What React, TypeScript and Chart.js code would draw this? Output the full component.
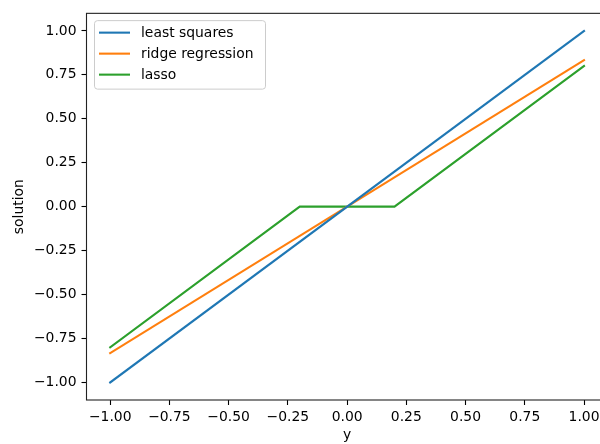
import React, { useEffect, useRef } from "react";
import { Chart, registerables } from "chart.js";

Chart.register(...registerables);

const seriesNames = ["least squares", "ridge regression", "lasso"];
const seriesColors = ["#1f77b4", "#ff7f0e", "#2ca02c"];

const leastSquaresX = [-1, 1];
const leastSquaresY = [-1, 1];
const ridgeX = [-1, 1];
const ridgeY = [-0.8333, 0.8333];
const lassoX = [-1, -0.2, 0.2, 1];
const lassoY = [-0.8, 0, 0, 0.8];

const xTicks = [-1, -0.75, -0.5, -0.25, 0, 0.25, 0.5, 0.75, 1];
const yTicks = [-1, -0.75, -0.5, -0.25, 0, 0.25, 0.5, 0.75, 1];

const xLabel = "y";
const yLabel = "solution";

const FONT = "DejaVu Sans";
const FS = 13.9;

const fmt = (v: number) => {
  const s = Math.abs(v).toFixed(2);
  return v < -1e-9 ? "\u2212" + s : s;
};

const toPts = (xs: number[], ys: number[]) => xs.map((x, i) => ({ x, y: ys[i] }));

const framePlugin = {
  id: "frameAndLegend",
  afterDraw(chart: any) {
    const { ctx, chartArea } = chart;
    const { left, top, right, bottom } = chartArea;
    ctx.save();
    ctx.strokeStyle = "#222";
    ctx.lineWidth = 1.1;
    ctx.strokeRect(left, top, right - left, bottom - top);

    // legend
    const bx = left + 8;
    const by = top + 7.3;
    const bw = 171;
    const bh = 68.5;
    const r = 3;
    ctx.beginPath();
    ctx.moveTo(bx + r, by);
    ctx.lineTo(bx + bw - r, by);
    ctx.arcTo(bx + bw, by, bx + bw, by + r, r);
    ctx.lineTo(bx + bw, by + bh - r);
    ctx.arcTo(bx + bw, by + bh, bx + bw - r, by + bh, r);
    ctx.lineTo(bx + r, by + bh);
    ctx.arcTo(bx, by + bh, bx, by + bh - r, r);
    ctx.lineTo(bx, by + r);
    ctx.arcTo(bx, by, bx + r, by, r);
    ctx.closePath();
    ctx.fillStyle = "rgba(255,255,255,0.8)";
    ctx.fill();
    ctx.strokeStyle = "#cccccc";
    ctx.lineWidth = 1;
    ctx.stroke();

    ctx.font = `${FS}px "${FONT}"`;
    ctx.textBaseline = "middle";
    ctx.textAlign = "left";
    chart.data.datasets.forEach((ds: any, i: number) => {
      const y = by + 12 + 21 * i;
      ctx.strokeStyle = ds.borderColor;
      ctx.lineWidth = 2.1;
      ctx.lineCap = "butt";
      ctx.beginPath();
      ctx.moveTo(bx + 4.5, y);
      ctx.lineTo(bx + 35.5, y);
      ctx.stroke();
      ctx.fillStyle = "#000";
      ctx.fillText(ds.label, bx + 46.5, y + 1);
    });
    ctx.restore();
  },
};

export default function App() {
  const ref = useRef<HTMLCanvasElement>(null);
  useEffect(() => {
    if (!ref.current) return;
    const font = { family: FONT, size: FS };
    const chart = new Chart(ref.current, {
      type: "line",
      data: {
        datasets: [
          { label: seriesNames[0], data: toPts(leastSquaresX, leastSquaresY), borderColor: seriesColors[0] },
          { label: seriesNames[1], data: toPts(ridgeX, ridgeY), borderColor: seriesColors[1] },
          { label: seriesNames[2], data: toPts(lassoX, lassoY), borderColor: seriesColors[2] },
        ].map((d) => ({ ...d, borderWidth: 2.1, pointRadius: 0, fill: false, tension: 0, borderCapStyle: "square" as const })),
      },
      options: {
        responsive: false,
        devicePixelRatio: 1,
        animation: false,
        layout: { padding: { top: 11.7, right: 12.3, left: 0, bottom: 0 } },
        plugins: { legend: { display: false }, tooltip: { enabled: false } },
        scales: {
          x: {
            type: "linear",
            min: -1.1,
            max: 1.1,
            afterBuildTicks: (s: any) => {
              s.ticks = xTicks.map((v) => ({ value: v }));
            },
            afterFit: (s: any) => {
              s.height = 44;
            },
            border: { display: false },
            grid: { drawOnChartArea: false, tickLength: 5, tickColor: "#000", tickWidth: 1.1 },
            ticks: { font, color: "#000", padding: 4, maxRotation: 0, autoSkip: false, callback: (v: any) => fmt(Number(v)) },
            title: { display: true, text: xLabel, font, color: "#000", padding: { top: 0, bottom: 0 } },
          },
          y: {
            type: "linear",
            min: -1.1,
            max: 1.1,
            afterBuildTicks: (s: any) => {
              s.ticks = yTicks.map((v) => ({ value: v }));
            },
            afterFit: (s: any) => {
              s.width = 86.5;
            },
            border: { display: false },
            grid: { drawOnChartArea: false, tickLength: 5, tickColor: "#000", tickWidth: 1.1 },
            ticks: { font, color: "#000", padding: 5, autoSkip: false, callback: (v: any) => fmt(Number(v)) },
            title: { display: true, text: yLabel, font, color: "#000", padding: { top: 11.5, bottom: 0 } },
          },
        },
      },
      plugins: [framePlugin],
    } as any);
    return () => chart.destroy();
  }, []);
  return (
    <div style={{ position: "absolute", left: 0, top: 0, width: 600, height: 444, overflow: "hidden", background: "#fff" }}>
      <canvas ref={ref} width={620} height={444} style={{ display: "block" }} />
    </div>
  );
}
